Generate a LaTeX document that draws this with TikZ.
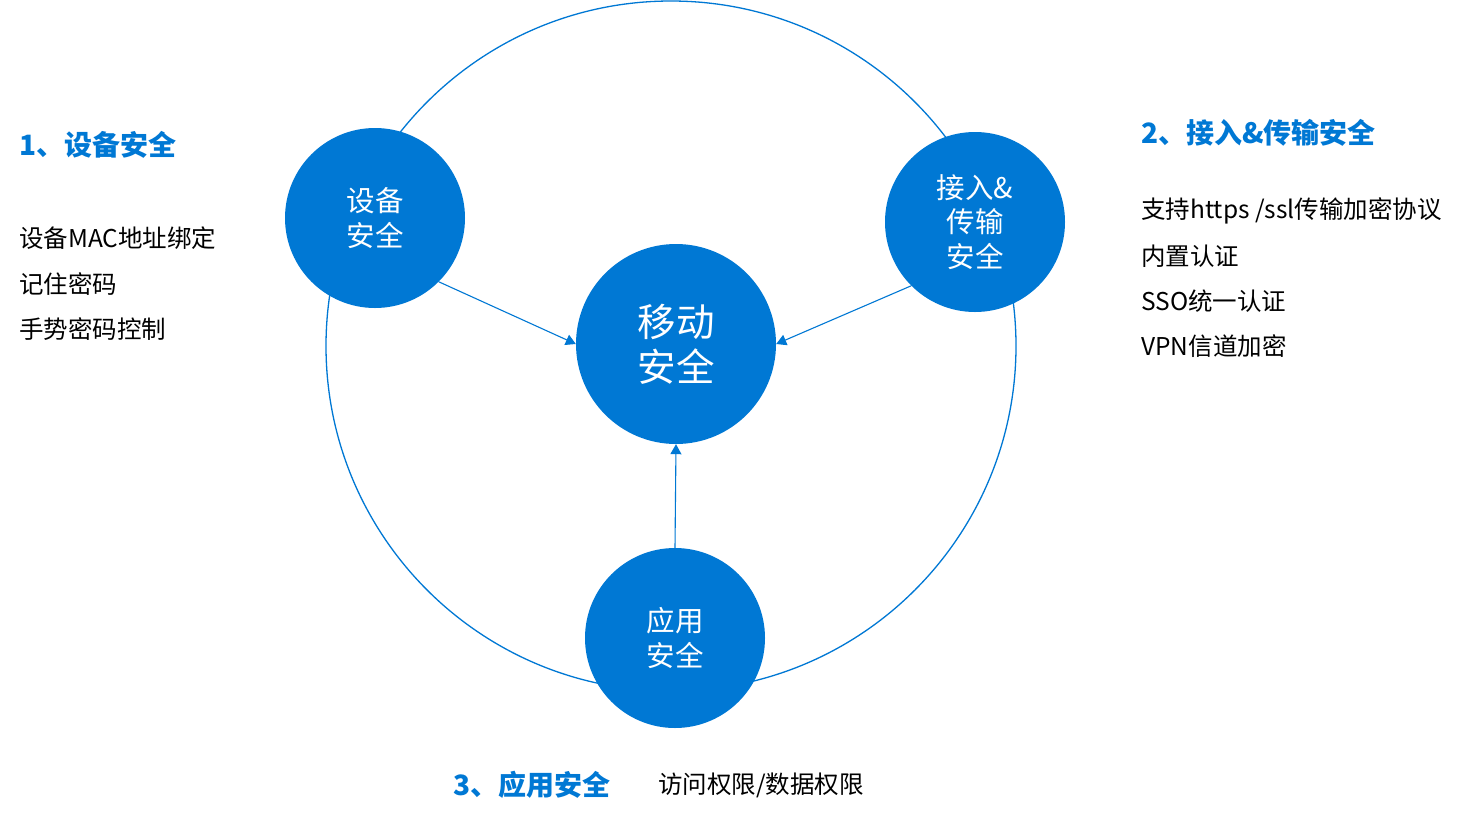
\documentclass[tikz,border=0pt]{standalone}
\usepackage{fontspec}
\setmainfont{Noto Sans CJK SC}
\usetikzlibrary{arrows.meta}
\definecolor{mblue}{RGB}{0,120,212}
\begin{document}
\begin{tikzpicture}[x=1pt,y=-1pt,
  bubble/.style={circle,fill=mblue,inner sep=0pt,minimum size=180pt,text=white,align=center,font=\fontsize{28.5}{34.5}\selectfont},
  head/.style={anchor=west,inner sep=0pt,text=mblue,font=\fontsize{28}{32}\selectfont\bfseries},
  body/.style={anchor=west,inner sep=0pt,text=black,font=\fontsize{24.5}{28}\selectfont},
  conn/.style={draw=mblue,line width=1.1pt,-{Triangle[length=10pt,width=11pt]}}]
\useasboundingbox (0,0) rectangle (1468,820);
\fill[white] (0,0) rectangle (1468,820);
\draw[mblue,line width=1.3pt] (671,346) circle[radius=345];
\node[bubble] (dev) at (375,218) {设备\\安全};
\node[bubble] (acc) at (975,222) {接入\&\\传输\\安全};
\node[bubble] (app) at (675,638) {应用\\安全};
\node[bubble,minimum size=200pt,font=\fontsize{38.5}{45}\selectfont] (mob) at (676,344) {移动\\安全};
\draw[conn] (dev.south east) -- (mob.west);
\draw[conn] (acc.south west) -- (mob.east);
\draw[conn] (app.north) -- (mob.south);
\node[head] (h1) at (19,145) {1、设备安全};
\node[body] (l1) at (19,238) {设备MAC地址绑定};
\node[body] (l2) at (19,284) {记住密码};
\node[body] (l3) at (19,329) {手势密码控制};
\node[head] (h2) at (1141,133) {2、接入\&传输安全};
\node[body] (r1) at (1141,211) {支持https /ssl传输加密协议};
\node[body] (r2) at (1141,256) {内置认证};
\node[body] (r3) at (1141,301) {SSO统一认证};
\node[body] (r4) at (1141,346) {VPN信道加密};
\node[head] (h3) at (453,785) {3、应用安全};
\node[body] (b1) at (658,785) {访问权限/数据权限};
\end{tikzpicture}
\end{document}
